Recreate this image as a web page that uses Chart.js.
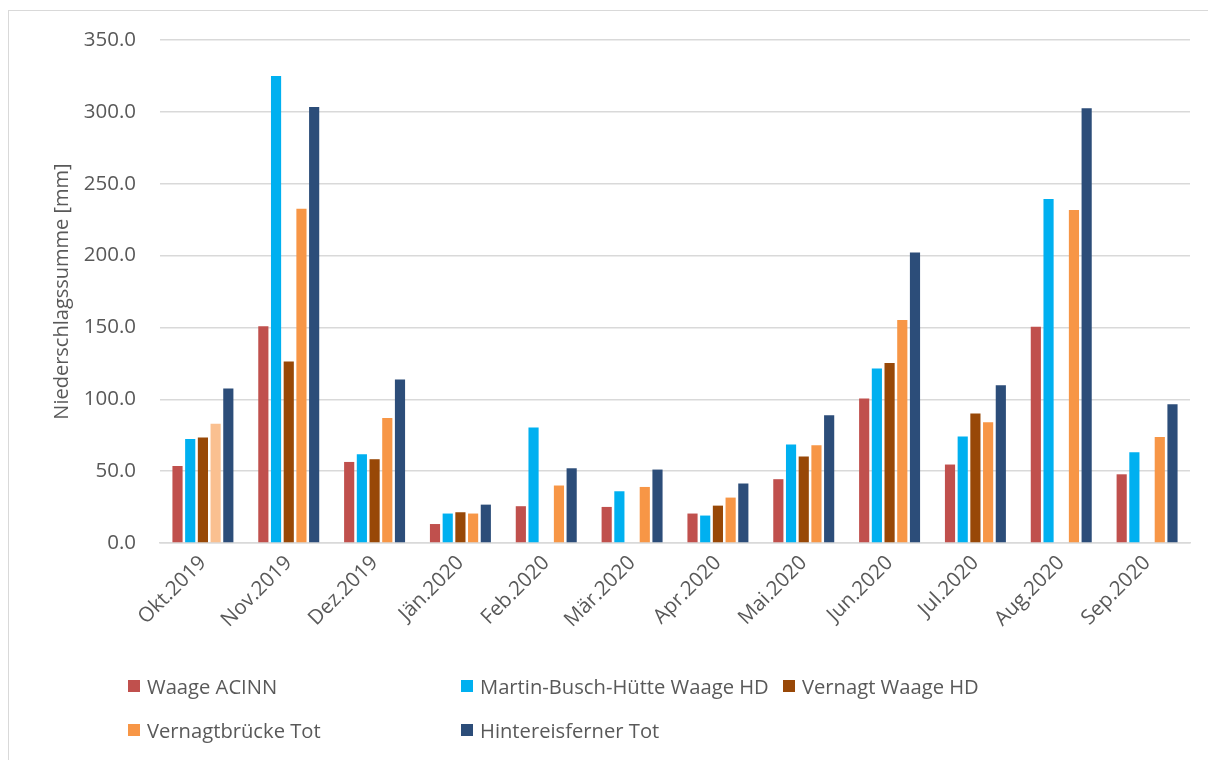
<!DOCTYPE html>
<html>
<head>
<meta charset="utf-8">
<script src="https://cdn.jsdelivr.net/npm/chart.js@4/dist/chart.umd.min.js"></script>
<style>
  html, body { margin: 0; padding: 0; background: #fff; overflow: hidden; }
  #wrap { position: relative; width: 1208px; height: 760px; }
  #frame { position: absolute; left: 8px; top: 10px; width: 1220px; height: 770px; border: 1px solid #d9d9d9; box-sizing: border-box; }
  canvas { position: absolute; left: 0; top: 0; }
  #legend { position: absolute; left: 128px; top: 671px; display: grid;
            grid-template-columns: 333px 322px auto; grid-auto-rows: 44px;
            font-family: "Open Sans", sans-serif; font-size: 20.2px; color: #595959; }
  .item { display: flex; align-items: center; white-space: nowrap; height: 30px; }
  .sw { width: 12px; height: 12px; margin-right: 7px; flex: none; }
</style>
</head>
<body>
<div id="wrap">
  <div id="frame"></div>
  <canvas id="c" width="1208" height="760"></canvas>
  <div id="legend"></div>
</div>
<script>
// Monthly precipitation totals, hydrological year 2019/20
const months = ['Okt.2019', 'Nov.2019', 'Dez.2019', 'Jän.2020', 'Feb.2020', 'Mär.2020',
                'Apr.2020', 'Mai.2020', 'Jun.2020', 'Jul.2020', 'Aug.2020', 'Sep.2020'];

const waageAcinn      = [53.6, 150.9, 56.4, 13.2, 25.6, 25.1, 20.5, 44.4, 100.5, 54.6, 150.4, 47.8];
const martinBusch     = [72.4, 325.0, 61.8, 20.5, 80.4, 36.0, 19.1, 68.5, 121.4, 74.1, 239.3, 63.2];
const vernagtWaage    = [73.4, 126.3, 58.3, 21.4, null, null, 26.0, 60.2, 125.3, 90.1, null, null];
const vernagtbruecke  = [82.9, 232.6, 87.0, 20.5, 40.0, 39.0, 31.6, 68.0, 155.1, 84.1, 231.7, 73.8];
const hintereisferner = [107.5, 303.4, 113.8, 26.7, 52.0, 51.1, 41.4, 88.9, 202.2, 109.8, 302.5, 96.6];

const yTicks = [0, 50, 100, 150, 200, 250, 300, 350];

const textColor = '#595959';
const gridColor = '#d9d9d9';
const fontFamily = '"Open Sans", sans-serif';

const datasets = [
  { label: 'Waage ACINN', data: waageAcinn, backgroundColor: '#C0504D' },
  { label: 'Martin-Busch-Hütte Waage HD', data: martinBusch, backgroundColor: '#00B0F0' },
  { label: 'Vernagt Waage HD', data: vernagtWaage, backgroundColor: '#984807' },
  { label: 'Vernagtbrücke Tot', data: vernagtbruecke, backgroundColor: '#F79646',
    // first month is highlighted in a lighter tint
    pointColors: (i) => i === 0 ? '#FAC090' : '#F79646' },
  { label: 'Hintereisferner Tot', data: hintereisferner, backgroundColor: '#2C4D79' }
];

const chart = new Chart(document.getElementById('c'), {
  type: 'bar',
  data: {
    labels: months,
    datasets: datasets.map(d => ({
      label: d.label,
      data: d.data,
      backgroundColor: d.pointColors ? (ctx) => d.pointColors(ctx.dataIndex) : d.backgroundColor,
      borderWidth: 0,
      categoryPercentage: 0.74,
      barPercentage: 0.8
    }))
  },
  options: {
    responsive: false,
    animation: false,
    devicePixelRatio: 1,
    layout: { padding: { top: 40, right: 18, bottom: 107, left: 50 } },
    plugins: { legend: { display: false }, tooltip: { enabled: false } },
    scales: {
      x: {
        grid: { display: false, drawTicks: false },
        border: { color: gridColor, width: 1.5 },
        ticks: { color: textColor, font: { family: fontFamily, size: 20.5 },
                 maxRotation: 45, minRotation: 45, padding: 8, autoSkip: false },
        afterFit: (s) => { s.height = 110; }
      },
      y: {
        min: 0, max: 350,
        afterBuildTicks: (s) => { s.ticks = yTicks.map(v => ({ value: v })); },
        grid: { color: gridColor, lineWidth: 1.5, drawTicks: false },
        border: { display: false },
        ticks: { color: textColor, font: { family: fontFamily, size: 20.5 }, padding: 24,
                 callback: (v) => Number(v).toFixed(1) },
        title: { display: true, text: 'Niederschlagssumme [mm]', color: textColor,
                 font: { family: fontFamily, size: 20 }, padding: { top: 0, bottom: 0 } },
        afterFit: (s) => { s.width = 110; }
      }
    }
  }
});

// Legend built from the dataset labels and colours
const legend = document.getElementById('legend');
datasets.forEach((d, i) => {
  const item = document.createElement('div');
  item.className = 'item';
  if (i === 3) item.style.gridColumn = '1';
  const sw = document.createElement('span');
  sw.className = 'sw';
  sw.style.background = d.backgroundColor;
  const tx = document.createElement('span');
  tx.textContent = d.label;
  item.appendChild(sw);
  item.appendChild(tx);
  legend.appendChild(item);
});
</script>
</body>
</html>
